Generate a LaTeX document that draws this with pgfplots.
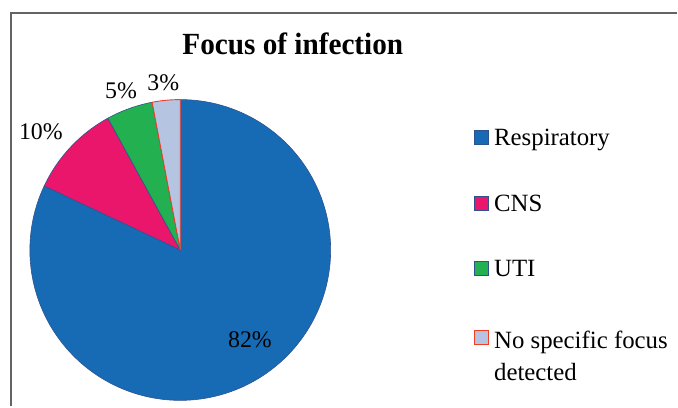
\documentclass[border=0pt]{standalone}
\usepackage{fontspec}
\setmainfont{Liberation Serif}
\usepackage{pgfplots}
\usepackage{pgfplotstable}
\pgfplotsset{compat=1.18}
\definecolor{cResp}{RGB}{23,107,181}
\definecolor{cCNS}{RGB}{233,22,108}
\definecolor{cUTI}{RGB}{34,176,80}
\definecolor{cNo}{RGB}{181,197,225}
\definecolor{cEdge}{RGB}{47,82,143}
\definecolor{cRed}{RGB}{240,60,40}
\definecolor{cFrame}{RGB}{100,100,100}

\pgfplotstableread{
cat value
Respiratory 82
CNS 10
UTI 5
None 3
}\piedata

\begin{document}
\begin{tikzpicture}
\path[fill=white] (0bp,0bp) rectangle (678bp,406bp);
\draw[cFrame, line width=1.5bp] (11bp,-2bp) -- (11bp,393bp) -- (680bp,393bp);
\pgfplotstablegetelem{0}{value}\of\piedata \edef\vA{\pgfplotsretval}
\pgfplotstablegetelem{1}{value}\of\piedata \edef\vB{\pgfplotsretval}
\pgfplotstablegetelem{2}{value}\of\piedata \edef\vC{\pgfplotsretval}
\pgfplotstablegetelem{3}{value}\of\piedata \edef\vD{\pgfplotsretval}
\pgfmathsetmacro{\aA}{90-3.6*\vA}
\pgfmathsetmacro{\aB}{\aA-3.6*\vB}
\pgfmathsetmacro{\aC}{\aB-3.6*\vC}
\pgfmathsetmacro{\aD}{\aC-3.6*\vD}
\begin{axis}[
  hide axis, x=151bp, y=151bp,
  xmin=-1, xmax=1, ymin=-1, ymax=1, clip=false,
  anchor=origin, at={(181bp,155bp)},
  samples=150,
  legend cell align=left,
  legend image code/.code={\draw[#1] (0bp,-6bp) rectangle (14bp,8bp);},
  legend style={draw=none, fill=none, inner sep=0pt,
    font=\fontsize{25}{32}\selectfont, row sep=48bp,
    at={(axis cs:1.954,0.804)}, anchor=north west,
    nodes={inner sep=0pt, outer sep=0pt},
    column sep=5bp},
]
\addplot[fill=cResp, draw=cEdge, line width=0.6bp, domain=\aA:90, variable=\t, data cs=polar] ({\t},{1}) -- (axis cs:0,0) -- cycle;
\addlegendentry{Respiratory}
\addplot[fill=cCNS, draw=cEdge, line width=0.6bp, domain=\aB:\aA, variable=\t, data cs=polar] ({\t},{1}) -- (axis cs:0,0) -- cycle;
\addlegendentry{CNS}
\addplot[fill=cUTI, draw=cEdge, line width=0.6bp, domain=\aC:\aB, variable=\t, data cs=polar] ({\t},{1}) -- (axis cs:0,0) -- cycle;
\addlegendentry{UTI}
\addplot[fill=cNo, draw=cRed, line width=0.9bp, domain=\aD:\aC, variable=\t, data cs=polar] ({\t},{1}) -- (axis cs:0,0) -- cycle;
\addlegendentry{\begin{tabular}[t]{@{}l@{}}No specific focus\\detected\end{tabular}}
\end{axis}
\begin{scope}[every node/.style={font=\fontsize{24}{28}\selectfont, inner sep=0pt, anchor=base}]
\node at (251bp,57bp) {82\%};
\node at (41bp,266bp) {10\%};
\node at (121.5bp,307bp) {5\%};
\node at (164bp,315bp) {3\%};
\end{scope}
\node[anchor=base, inner sep=0pt] at (294bp,351bp) {\scalebox{0.95}[1]{\fontsize{31}{34}\selectfont\bfseries Focus of infection}};
\end{tikzpicture}
\end{document}
